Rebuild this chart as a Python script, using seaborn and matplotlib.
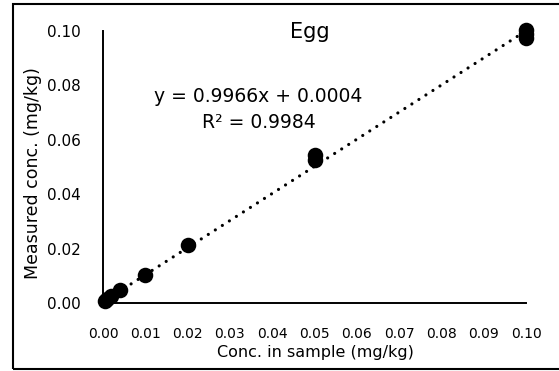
import numpy as np
import pandas as pd
import matplotlib
matplotlib.use("Agg")
import matplotlib.pyplot as plt
import matplotlib.patches as patches
import seaborn as sns

# Data
conc_in_sample = [0.0005, 0.001, 0.002, 0.004, 0.01, 0.02, 0.05, 0.05, 0.10, 0.10, 0.10]
measured_conc = [0.0008, 0.0013, 0.0024, 0.0046, 0.0103, 0.0213, 0.0526, 0.0544, 0.0974, 0.0990, 0.1004]
slope = 0.9966
intercept = 0.0004
x_ticks = [0.00, 0.01, 0.02, 0.03, 0.04, 0.05, 0.06, 0.07, 0.08, 0.09, 0.10]
y_ticks = [0.00, 0.02, 0.04, 0.06, 0.08, 0.10]
title = "Egg"
eq_text = "y = 0.9966x + 0.0004"
r2_text = "R\u00b2 = 0.9984"
xlabel = "Conc. in sample (mg/kg)"
ylabel = "Measured conc. (mg/kg)"

df = pd.DataFrame({"x": conc_in_sample, "y": measured_conc})

sns.set_theme(style="white")
plt.rcParams['font.family'] = ['DejaVu Sans']

fig = plt.figure(figsize=(5.59, 3.71), dpi=100)
W, H = 559, 371
ax_left, ax_right, ax_top, ax_bottom = 103, 526, 31, 303
ax = fig.add_axes([ax_left / W, (H - ax_bottom) / H,
                   (ax_right - ax_left) / W, (ax_bottom - ax_top) / H])

# trend line
xs = np.array([0.0, max(conc_in_sample)])
trend = pd.DataFrame({"x": xs, "y": slope * xs + intercept})
sns.lineplot(data=trend, x="x", y="y", ax=ax, color="black", linewidth=2.3,
             linestyle=(0, (0.01, 2.6)), dash_capstyle="round", zorder=2)

sns.scatterplot(data=df, x="x", y="y", ax=ax, color="black", s=125,
                edgecolor="black", linewidth=0, zorder=3, clip_on=False)

ax.set_xlim(0, 0.10)
ax.set_ylim(0, 0.10)
ax.set_xticks(x_ticks)
ax.set_yticks(y_ticks)
ax.set_xticklabels([f"{v:.2f}" for v in x_ticks], fontsize=10, color="black")
ax.set_yticklabels([f"{v:.2f}" for v in y_ticks], fontsize=11, color="black")
ax.tick_params(axis="x", length=0, pad=17.5)
ax.tick_params(axis="y", length=0, pad=16)

for s in ["top", "right"]:
    ax.spines[s].set_visible(False)
for s in ["left", "bottom"]:
    ax.spines[s].set_color("black")
    ax.spines[s].set_linewidth(1.4)

ax.set_xlabel(xlabel, fontsize=11.5, color="black")
ax.set_ylabel(ylabel, fontsize=12.5, color="black")
ax.xaxis.set_label_coords((315 - ax_left) / (ax_right - ax_left), (ax_bottom - 353) / (ax_bottom - ax_top))
ax.xaxis.label.set_verticalalignment("center")
ax.yaxis.set_label_coords((33 - ax_left) / (ax_right - ax_left), (ax_bottom - 173) / (ax_bottom - ax_top))
ax.yaxis.label.set_verticalalignment("center")

def axfrac(px, py):
    return ((px - ax_left) / (ax_right - ax_left), (ax_bottom - py) / (ax_bottom - ax_top))

ax.text(*axfrac(309.5, 32), title, transform=ax.transAxes, ha="center", va="center",
        fontsize=15, color="black")
ax.text(*axfrac(258, 96), eq_text, transform=ax.transAxes, ha="center", va="center",
        fontsize=13.5, color="black")
ax.text(*axfrac(258.5, 122), r2_text, transform=ax.transAxes, ha="center", va="center",
        fontsize=13.5, color="black")

# figure border
rect = patches.Rectangle((12.5 / W, 2 / H), 1.0, (369 - 4) / H, transform=fig.transFigure,
                         fill=False, edgecolor="black", linewidth=1.5, clip_on=False)
fig.patches.append(rect)

ax.set_facecolor("white")
fig.patch.set_facecolor("white")
fig.savefig("out.png", dpi=100)
